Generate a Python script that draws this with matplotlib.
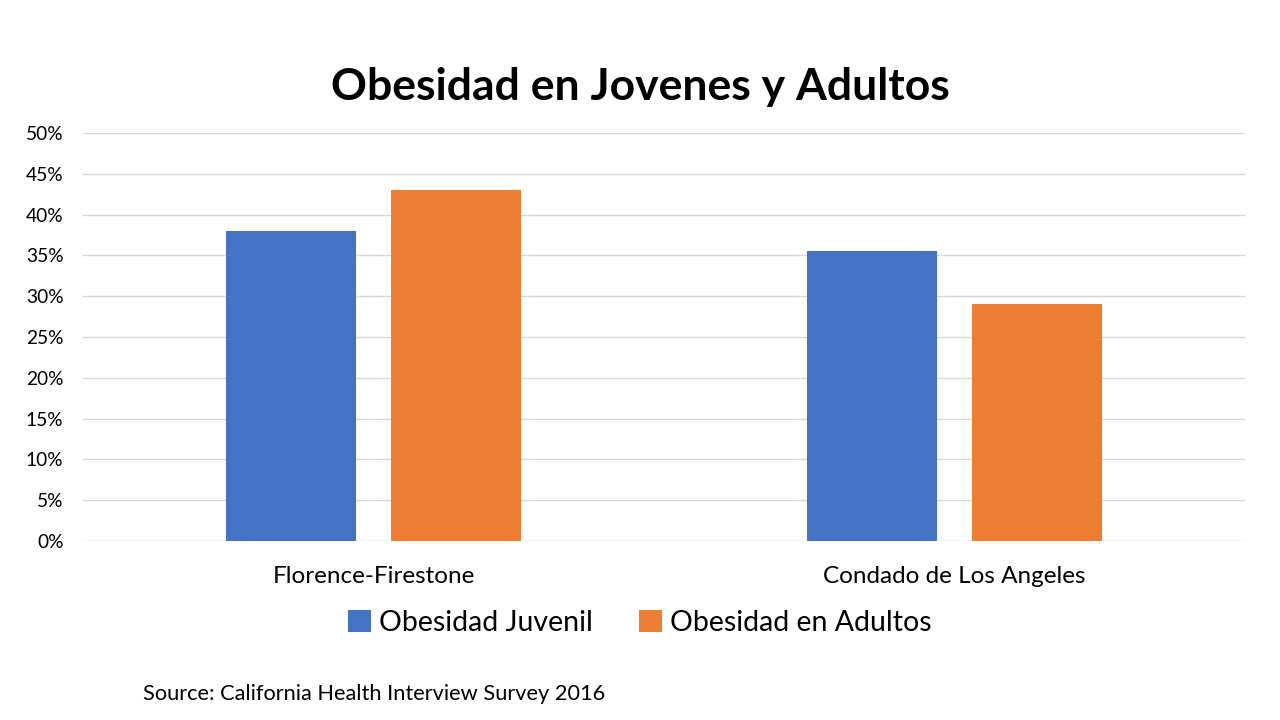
import matplotlib
matplotlib.use("Agg")
import matplotlib.pyplot as plt
import numpy as np
from matplotlib.ticker import MultipleLocator, FuncFormatter

plt.rcParams['font.family'] = ['Lato', 'DejaVu Sans']

categories = ["Florence-Firestone", "Condado de Los Angeles"]
series_names = ["Obesidad Juvenil", "Obesidad en Adultos"]
juvenil = [38.0, 35.5]
adultos = [43.0, 29.0]
colors = ["#4472C4", "#ED7D31"]

fig = plt.figure(figsize=(12.8, 7.2), dpi=100)
ax = fig.add_axes([83/1280, (720-541)/720, (1245-83)/1280, (541-133)/720])

x = np.arange(len(categories))
w = 0.224
gap = 0.06
ax.bar(x - (w + gap)/2, juvenil, width=w, color=colors[0], label=series_names[0], zorder=3)
ax.bar(x + (w + gap)/2, adultos, width=w, color=colors[1], label=series_names[1], zorder=3)

ax.set_xlim(-0.5, 1.5)
ax.set_ylim(0, 50)
ax.yaxis.set_major_locator(MultipleLocator(5))
ax.yaxis.set_major_formatter(FuncFormatter(lambda v, p: f"{int(round(v))}%"))
ax.grid(axis='y', color='#D9D9D9', linewidth=1, zorder=0)
for s in ax.spines.values():
    s.set_visible(False)
ax.tick_params(axis='both', length=0)
ax.tick_params(axis='y', labelsize=13.8, colors='#000000', pad=14)
ax.set_xticks(x)
ax.set_xticklabels(categories, fontsize=17.5)
ax.tick_params(axis='x', pad=18)

fig.text(0.5, (720-87)/720, "Obesidad en Jovenes y Adultos", ha='center', va='center',
         fontsize=32, fontweight='bold')

handles, labels = ax.get_legend_handles_labels()
fig.legend(handles, labels, loc='center', bbox_to_anchor=(0.5, (720-623)/720), ncol=2,
           frameon=False, fontsize=20.5, handlelength=0.8, handleheight=0.8,
           handletextpad=0.3, columnspacing=1.6)

fig.text(143/1280, (720-694)/720, "Source: California Health Interview Survey 2016",
         ha='left', va='center', fontsize=15.7)

fig.savefig("out.png", dpi=100)
